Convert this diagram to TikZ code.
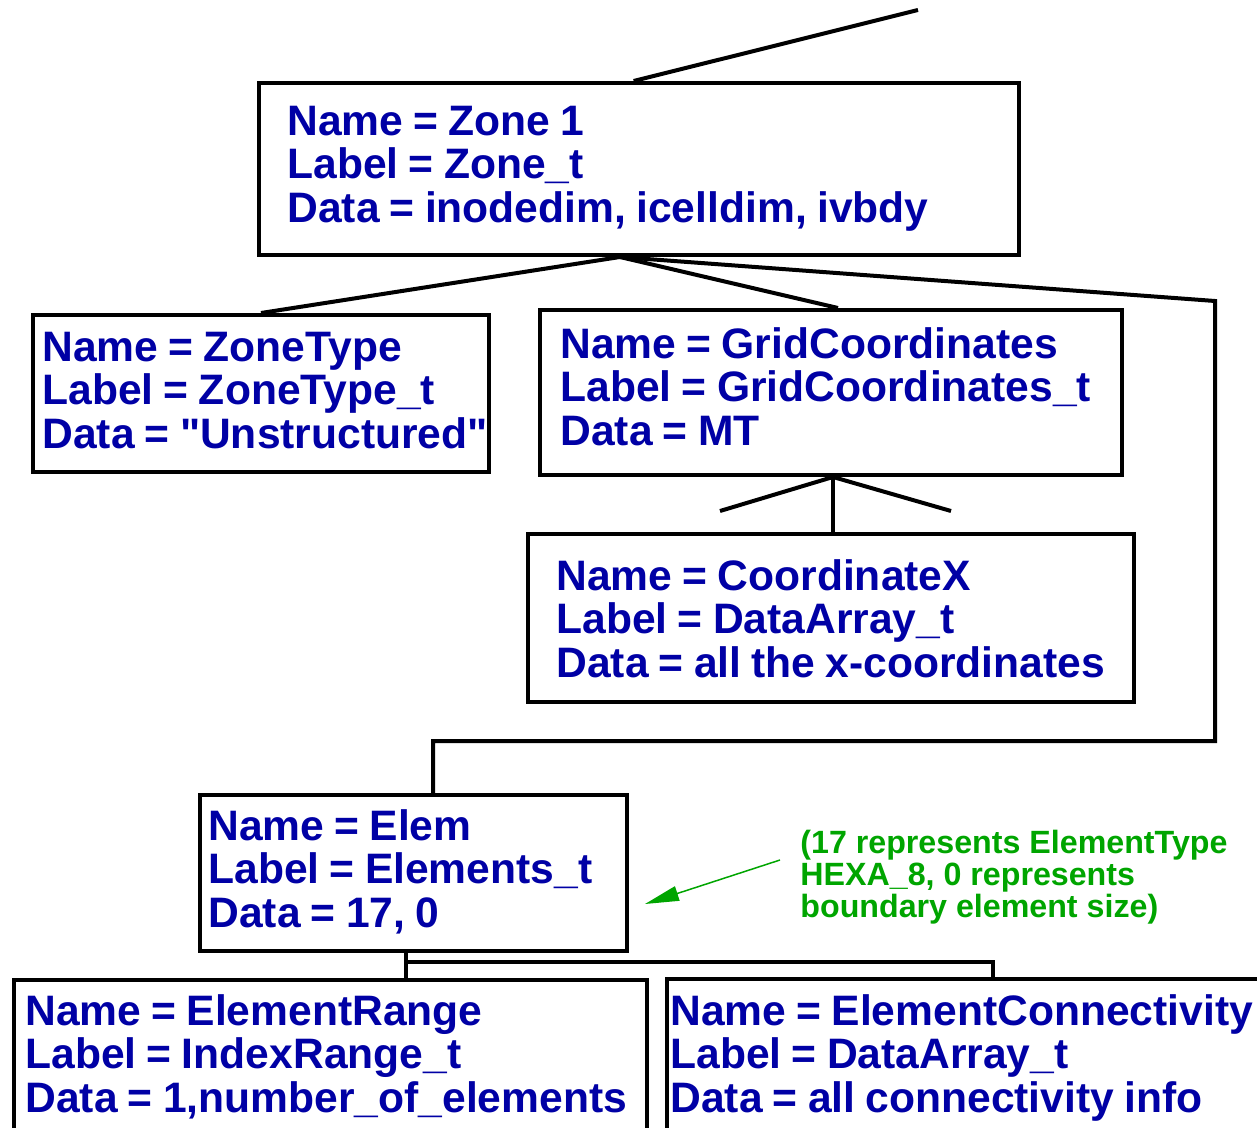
\documentclass[tikz,border=0pt]{standalone}
\usepackage{fontspec}
\setmainfont{Liberation Sans}
\usetikzlibrary{calc,arrows.meta}
\definecolor{cgnsblue}{RGB}{0,0,165}
\definecolor{notegreen}{RGB}{0,165,0}
\newcommand\boxfont{\fontsize{21.3pt}{21.75pt}\selectfont\bfseries\spaceskip=0.24em plus 0.1em minus 0.05em\relax}
\newcommand\notefont{\fontsize{16.1pt}{16pt}\selectfont\bfseries}
\begin{document}
\begin{tikzpicture}[x=0.5pt,y=-0.5pt,
  nodebox/.style={draw, line width=2pt, inner sep=0pt, anchor=north west},
  boxtext/.style={anchor=north west, inner sep=0pt, align=left,
    text=cgnsblue, font=\boxfont},
  notetext/.style={anchor=north west, inner sep=0pt, align=left,
    text=notegreen, font=\notefont},
  link/.style={line width=2pt},
  notearrow/.style={draw=notegreen, line width=0.75pt,
    -{Triangle[length=17pt,width=7.5pt]}, notegreen}]
\useasboundingbox (0,0) rectangle (1257,1128);
\clip (0,0) rectangle (1257,1128);

% boxes of the CGNS tree
\node[nodebox, minimum width=380pt, minimum height=86pt] (zone) at (257,81) {};
\node[nodebox, minimum width=228pt, minimum height=78.5pt] (ztype) at (31,313) {};
\node[nodebox, minimum width=291pt, minimum height=82.5pt] (grid) at (538,308) {};
\node[nodebox, minimum width=303pt, minimum height=84pt] (coordx) at (526,532) {};
\node[nodebox, minimum width=213.5pt, minimum height=78pt] (elem) at (198,793) {};
\node[nodebox, minimum width=316.5pt, minimum height=92pt] (erange) at (12,978) {};
\node[nodebox, minimum width=313pt, minimum height=92pt] (econn) at (665,977) {};

% node contents
\node[boxtext] (zonetxt) at (287,103)
  {\rule{0pt}{16pt}Name = Zone 1\\Label = Zone\_t\\Data = inodedim, icelldim, ivbdy};
\node[boxtext] (ztypetxt) at (42,329)
  {\rule{0pt}{16pt}Name = ZoneType\\Label = ZoneType\_t\\Data = \textquotedbl Unstructured\textquotedbl};
\node[boxtext] (gridtxt) at (560,326)
  {\rule{0pt}{16pt}Name = GridCoordinates\\Label = GridCoordinates\_t\\Data = MT};
\node[boxtext] (coordxtxt) at (556,558)
  {\rule{0pt}{16pt}Name = CoordinateX\\Label = DataArray\_t\\Data = all the x-coordinates};
\node[boxtext] (elemtxt) at (208,808)
  {\rule{0pt}{16pt}Name = Elem\\Label = Elements\_t\\Data = 17, 0};
\node[boxtext] (erangetxt) at (25,993)
  {\rule{0pt}{16pt}Name = ElementRange\\Label = IndexRange\_t\\Data = 1,number\_of\_elements};
\node[boxtext] (econntxt) at (670,993)
  {\rule{0pt}{16pt}Name = ElementConnectivity\\Label = DataArray\_t\\Data = all connectivity info};

% explanatory note
\node[notetext] (note) at (800,829)
  {\rule{0pt}{12pt}(17 represents ElementType\\HEXA\_8, 0 represents\\boundary element size)};

% connector points
\coordinate (parent) at (918,10);
\coordinate (ztop) at ($(zone.north west)!0.493!(zone.north east)$);
\coordinate (zfork) at ($(zone.south west)!0.475!(zone.south east)$);
\coordinate (gridin) at ($(grid.north)+(7,0)$);
\coordinate (bendA) at (1215,301);
\coordinate (bendB) at (1215,741);
\coordinate (elemin) at ($(elem.north west)!0.5457!(elem.north east)$);
\coordinate (gfork) at ($(grid.south)+(2,0)$);
\coordinate (stubL) at (720,511);
\coordinate (stubR) at (951,511);
\coordinate (efork) at ($(elem.south west)!0.4824!(elem.south east)$);
\coordinate (ebar) at (404,962);
\coordinate (econnin) at (993,977);
\coordinate (notetail) at (780,860);
\coordinate (notetip) at ($(elem.east)+(16,31)$);

% tree connectors
\draw[link] (ztop) -- (parent);
\draw[link] (zfork) -- (ztype.north);
\draw[link] (zfork) -- (gridin);
\draw[link] (zfork) -- (bendA) -- (bendB) -| (elemin);
\draw[link] (gfork) -- (coordx.north -| gfork);
\draw[link] (stubL) -- (gfork) -- (stubR);
\draw[link] (efork) -- (erange.north -| efork);
\draw[link] (ebar) -| (econnin);

% note pointer
\draw[notearrow] (notetail) -- (notetip);
\end{tikzpicture}
\end{document}
